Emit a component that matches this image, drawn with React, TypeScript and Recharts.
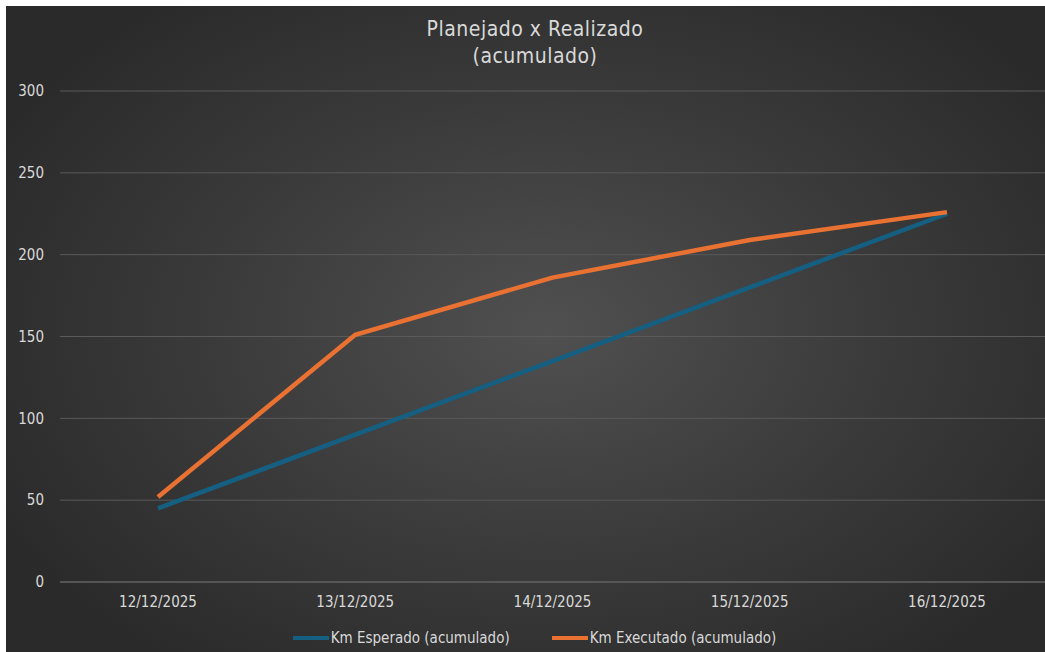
import React from "react";
import { LineChart, Line, XAxis, YAxis, CartesianGrid, Legend } from "recharts";

const categories = ["12/12/2025", "13/12/2025", "14/12/2025", "15/12/2025", "16/12/2025"];
const esperado = [45, 90, 135, 180, 225];
const executado = [52, 151, 186, 209, 226];
const yTicks = [0, 50, 100, 150, 200, 250, 300];

const data = categories.map((c, i) => ({ date: c, esperado: esperado[i], executado: executado[i] }));

const FONT = "'Liberation Sans Narrow', 'DejaVu Sans Condensed', sans-serif";
const TEXT = "#d9d9d9";
const BLUE = "#156082";
const ORANGE = "#e97132";

const LegendContent = (props: any) => {
  const items = props.payload || [];
  return (
    <div style={{ display: "flex", justifyContent: "center", gap: 42, fontFamily: FONT, fontSize: 15, color: TEXT, paddingLeft: 18 }}>
      {items.map((it: any) => (
        <div key={it.value} style={{ display: "flex", alignItems: "center" }}>
          <span style={{ display: "inline-block", width: 36, height: 4, background: it.color, marginRight: 2 }} />
          <span>{it.value}</span>
        </div>
      ))}
    </div>
  );
};

export default function App() {
  return (
    <div style={{ position: "absolute", left: 0, top: 0, width: 1045, height: 652, background: "#ffffff", overflow: "hidden" }}>
      <div
        style={{
          position: "absolute",
          left: 6,
          top: 6,
          width: 1039,
          height: 646,
          background: "radial-gradient(ellipse 60% 65% at 52% 50%, #505050 0%, #3a3a3a 55%, #2a2a2a 100%)",
        }}
      >
        <div style={{ position: "absolute", left: 0, top: 10, width: 1058, textAlign: "center", fontFamily: FONT, fontSize: 21, color: TEXT, lineHeight: "27px", letterSpacing: 0.5 }}>
          <div>Planejado x Realizado</div>
          <div>(acumulado)</div>
        </div>
        <LineChart width={1039} height={646} data={data} margin={{ top: 85, right: 0, bottom: 0, left: 0 }}>
          <CartesianGrid horizontal={true} vertical={false} stroke="#5a5a5a" strokeWidth={1} />
          <XAxis
            dataKey="date"
            axisLine={{ stroke: "#666666" }}
            tickLine={false}
            tickSize={0}
            tickMargin={14}
            padding={{ left: 98, right: 98 }}
            tick={{ fill: TEXT, fontFamily: FONT, fontSize: 15 }}
            height={50}
          />
          <YAxis
            domain={[0, 300]}
            ticks={yTicks}
            axisLine={false}
            tickLine={false}
            tickSize={0}
            tickMargin={16}
            width={54}
            tick={{ fill: TEXT, fontFamily: FONT, fontSize: 15 }}
          />
          <Legend verticalAlign="bottom" height={20} wrapperStyle={{ bottom: 3 }} content={<LegendContent />} />
          <Line type="linear" dataKey="esperado" name="Km Esperado (acumulado)" stroke={BLUE} strokeWidth={4.5} dot={false} isAnimationActive={false} />
          <Line type="linear" dataKey="executado" name="Km Executado (acumulado)" stroke={ORANGE} strokeWidth={4.5} dot={false} isAnimationActive={false} />
        </LineChart>
      </div>
    </div>
  );
}
